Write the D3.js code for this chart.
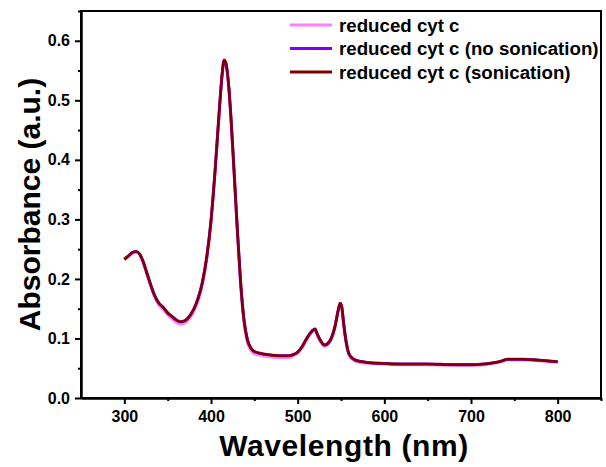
<!DOCTYPE html>
<html>
<head>
  <meta charset="utf-8">
  <script src="https://cdn.jsdelivr.net/npm/d3@7"></script>
  <style>
    body { margin: 0; background: #fff; }
    text { font-family: "Liberation Sans", Arial, sans-serif; font-weight: bold; fill: #000; }
  </style>
</head>
<body>
<script>
  // wavelengths (nm) and absorbance for each sample
  var wavelength = [300, 305, 310, 314, 318, 322, 326, 330, 335, 340, 345, 350, 355, 360, 365, 370, 375, 380, 385, 390, 395, 400, 405, 410, 413, 415, 417, 420, 423, 426, 430, 434, 438, 442, 446, 450, 460, 470, 480, 490, 495, 500, 505, 510, 515, 520, 523, 527, 531, 535, 539, 543, 546, 549, 551, 553, 556, 559, 563, 568, 575, 585, 600, 620, 650, 680, 700, 715, 725, 735, 742, 750, 760, 775, 790, 800];
  var reduced = [0.232, 0.238, 0.244, 0.245, 0.240, 0.226, 0.208, 0.190, 0.170, 0.156, 0.149, 0.140, 0.133, 0.127, 0.124, 0.126, 0.133, 0.145, 0.163, 0.190, 0.232, 0.295, 0.385, 0.490, 0.545, 0.566, 0.562, 0.530, 0.470, 0.395, 0.290, 0.195, 0.128, 0.094, 0.080, 0.074, 0.071, 0.069, 0.068, 0.068, 0.071, 0.075, 0.084, 0.097, 0.108, 0.114, 0.104, 0.093, 0.087, 0.090, 0.099, 0.118, 0.140, 0.158, 0.150, 0.124, 0.092, 0.073, 0.065, 0.061, 0.059, 0.058, 0.057, 0.056, 0.056, 0.055, 0.055, 0.056, 0.058, 0.061, 0.064, 0.064, 0.064, 0.063, 0.061, 0.060];
  var noSonication = [0.233, 0.239, 0.245, 0.246, 0.241, 0.228, 0.210, 0.192, 0.172, 0.159, 0.152, 0.143, 0.137, 0.131, 0.128, 0.130, 0.137, 0.149, 0.167, 0.194, 0.236, 0.298, 0.388, 0.492, 0.546, 0.567, 0.563, 0.531, 0.472, 0.397, 0.293, 0.198, 0.132, 0.098, 0.084, 0.078, 0.074, 0.072, 0.071, 0.071, 0.073, 0.077, 0.086, 0.099, 0.110, 0.116, 0.106, 0.095, 0.089, 0.092, 0.101, 0.120, 0.142, 0.159, 0.152, 0.126, 0.094, 0.075, 0.067, 0.063, 0.061, 0.059, 0.058, 0.057, 0.057, 0.056, 0.056, 0.057, 0.059, 0.062, 0.065, 0.065, 0.065, 0.064, 0.062, 0.061];
  var sonication = [0.233, 0.239, 0.245, 0.246, 0.241, 0.228, 0.210, 0.192, 0.172, 0.159, 0.152, 0.143, 0.137, 0.131, 0.128, 0.130, 0.137, 0.149, 0.167, 0.194, 0.236, 0.298, 0.388, 0.492, 0.546, 0.568, 0.564, 0.532, 0.472, 0.397, 0.293, 0.198, 0.132, 0.098, 0.084, 0.078, 0.074, 0.072, 0.071, 0.071, 0.073, 0.077, 0.086, 0.099, 0.110, 0.116, 0.106, 0.095, 0.089, 0.092, 0.101, 0.120, 0.142, 0.159, 0.152, 0.126, 0.094, 0.075, 0.067, 0.063, 0.061, 0.059, 0.058, 0.057, 0.057, 0.056, 0.056, 0.057, 0.059, 0.062, 0.065, 0.065, 0.065, 0.064, 0.062, 0.061];

  var seriesNames = ["reduced cyt c", "reduced cyt c (no sonication)", "reduced cyt c (sonication)"];
  var seriesColors = ["#ff80ff", "#7f00ff", "#800000"];
  var seriesValues = [reduced, noSonication, sonication];

  var xTicks = [300, 400, 500, 600, 700, 800];
  var yTicks = [0.0, 0.1, 0.2, 0.3, 0.4, 0.5, 0.6];

  var width = 606, height = 467;
  var plotL = 81, plotR = 601, plotT = 11, plotB = 398;

  var svg = d3.select("body").append("svg")
      .attr("width", width)
      .attr("height", height);

  var x = d3.scaleLinear().domain([250, 850]).range([plotL, plotR]);
  var y = d3.scaleLinear().domain([0, 0.65]).range([plotB, plotT]);

  // curves
  var line = d3.line()
      .x(function (d) { return x(d[0]); })
      .y(function (d) { return y(d[1]); })
      .curve(d3.curveMonotoneX);

  seriesValues.forEach(function (vals, i) {
    svg.append("path")
      .datum(wavelength.map(function (w, j) { return [w, vals[j]]; }))
      .attr("fill", "none")
      .attr("stroke", seriesColors[i])
      .attr("stroke-width", i == 2 ? 2.6 : 3)
      .attr("stroke-linejoin", "round")
      .attr("d", line);
  });

  // frame
  svg.append("rect")
      .attr("x", plotL).attr("y", plotT)
      .attr("width", plotR - plotL).attr("height", plotB - plotT)
      .attr("fill", "none").attr("stroke", "#000").attr("stroke-width", 2);

  // x axis
  svg.append("g").attr("transform", "translate(0," + plotB + ")")
      .call(d3.axisBottom(x).tickValues(xTicks).tickSize(6).tickSizeOuter(0).tickPadding(7));
  svg.append("g").attr("transform", "translate(0," + plotB + ")")
      .call(d3.axisBottom(x).tickValues([350, 450, 550, 650, 750, 850]).tickSize(3).tickSizeOuter(0).tickFormat(""));

  // y axis
  svg.append("g").attr("transform", "translate(" + plotL + ",0)")
      .call(d3.axisLeft(y).tickValues(yTicks).tickSize(6).tickSizeOuter(0).tickPadding(5).tickFormat(d3.format(".1f")));
  svg.append("g").attr("transform", "translate(" + plotL + ",0)")
      .call(d3.axisLeft(y).tickValues([0.05, 0.15, 0.25, 0.35, 0.45, 0.55, 0.65]).tickSize(3).tickSizeOuter(0).tickFormat(""));

  svg.selectAll(".domain").attr("stroke-width", 2);
  svg.selectAll(".tick line").attr("stroke-width", 2);
  svg.selectAll(".tick text")
      .style("font-family", "'Liberation Sans', Arial, sans-serif")
      .style("font-weight", "bold")
      .style("font-size", "16px");

  // axis titles
  svg.append("text")
      .attr("x", 344).attr("y", 456)
      .attr("text-anchor", "middle")
      .style("font-size", "30px")
      .style("letter-spacing", "0.6px")
      .text("Wavelength (nm)");

  svg.append("text")
      .attr("transform", "translate(40," + ((plotT + plotB) / 2) + ") rotate(-90)")
      .attr("text-anchor", "middle")
      .style("font-size", "30px")
      .text("Absorbance (a.u.)");

  // legend
  seriesNames.forEach(function (name, i) {
    var ly = 25 + i * 23.5;
    svg.append("line")
      .attr("x1", 290).attr("x2", 332)
      .attr("y1", ly).attr("y2", ly)
      .attr("stroke", seriesColors[i]).attr("stroke-width", 3);
    svg.append("text")
      .attr("x", 339).attr("y", ly + 6.5)
      .style("font-size", "18.7px")
      .text(name);
  });
</script>
</body>
</html>
